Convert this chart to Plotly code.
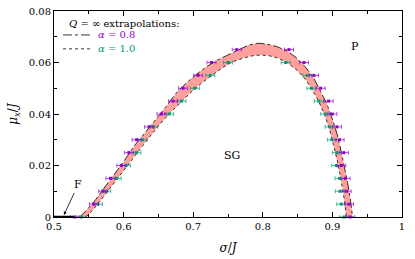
import plotly.graph_objects as go

# ---- data ----
mu_levels_p = [0, 0.005, 0.01, 0.015, 0.02, 0.025, 0.03, 0.035, 0.04, 0.045, 0.05, 0.055, 0.06, 0.065]
sig_p_left = [0.5297, 0.5574, 0.5707, 0.5811, 0.5968, 0.6076, 0.6187, 0.6367, 0.6545, 0.6712, 0.6855, 0.7070, 0.7263, 0.7626]
sig_p_right = [0.9257, 0.9237, 0.9204, 0.9189, 0.9128, 0.9165, 0.9103, 0.9065, 0.8999, 0.8946, 0.8831, 0.8735, 0.8591, 0.8376]

mu_levels_g = [0, 0.005, 0.01, 0.015, 0.02, 0.025, 0.03, 0.035, 0.04, 0.045, 0.05, 0.055, 0.06]
sig_g_left = [0.5392, 0.5631, 0.5750, 0.5900, 0.6033, 0.6184, 0.6273, 0.6425, 0.6654, 0.6832, 0.7023, 0.7245, 0.7501]
sig_g_right = [0.9165, 0.9128, 0.9108, 0.9103, 0.9056, 0.9065, 0.8993, 0.8960, 0.8898, 0.8806, 0.8697, 0.8640, 0.8329]

err_p = [0.0065] * 14
err_g = [0.0065] * 13

# extrapolated boundaries
sig_outer = [0.537, 0.548, 0.560, 0.573, 0.586, 0.600, 0.615, 0.630, 0.645, 0.660, 0.675, 0.690,
             0.705, 0.720, 0.735, 0.750, 0.765, 0.780, 0.793, 0.805, 0.820, 0.835, 0.850, 0.862,
             0.873, 0.883, 0.892, 0.900, 0.907, 0.913, 0.918, 0.922, 0.926, 0.929]
mu_outer = [0.0, 0.003, 0.0068, 0.0115, 0.0163, 0.0215, 0.0275, 0.0325, 0.0372, 0.0425, 0.048, 0.052,
            0.0555, 0.0585, 0.061, 0.063, 0.065, 0.0668, 0.0675, 0.0672, 0.0662, 0.0645, 0.0615, 0.058,
            0.054, 0.049, 0.044, 0.038, 0.032, 0.025, 0.019, 0.013, 0.0065, 0.0]

sig_inner = [0.546, 0.556, 0.568, 0.580, 0.593, 0.607, 0.622, 0.637, 0.652, 0.667, 0.682, 0.697,
             0.712, 0.727, 0.742, 0.757, 0.772, 0.785, 0.796, 0.808, 0.822, 0.836, 0.850, 0.862,
             0.872, 0.881, 0.889, 0.896, 0.902, 0.907, 0.911, 0.915, 0.918, 0.920]
mu_inner = [0.0, 0.0028, 0.0068, 0.011, 0.0155, 0.0205, 0.026, 0.031, 0.036, 0.0405, 0.0445, 0.0485,
            0.052, 0.055, 0.058, 0.0603, 0.0617, 0.0626, 0.0629, 0.0627, 0.0617, 0.0598, 0.0568, 0.0532,
            0.049, 0.0445, 0.0395, 0.034, 0.028, 0.022, 0.0165, 0.011, 0.0055, 0.0]

ferro_sig = [0.5, 0.528]
ferro_mu = [0.0, 0.0]

x_ticks = [0.5, 0.6, 0.7, 0.8, 0.9, 1.0]
x_ticklabels = ["0.5", "0.6", "0.7", "0.8", "0.9", "1"]
y_ticks = [0, 0.02, 0.04, 0.06, 0.08]
y_ticklabels = ["0", "0.02", "0.04", "0.06", "0.08"]

PURPLE = "#9400d3"
GREEN = "#009e73"
FILL = "#ffa09c"
FONT = "DejaVu Serif"

fig = go.Figure()

# band
fig.add_trace(go.Scatter(
    x=sig_outer + sig_inner[::-1], y=mu_outer + mu_inner[::-1],
    fill="toself", fillcolor=FILL, line=dict(width=0), mode="lines",
    hoverinfo="skip", showlegend=False))
fig.add_trace(go.Scatter(x=sig_outer, y=mu_outer, mode="lines",
                         line=dict(color="black", width=0.8, dash="dashdot"), showlegend=False))
fig.add_trace(go.Scatter(x=sig_inner, y=mu_inner, mode="lines",
                         line=dict(color="black", width=0.8, dash="dot"), showlegend=False))

def pts(xs, ys, err, color):
    fig.add_trace(go.Scatter(
        x=xs, y=ys, mode="markers",
        marker=dict(color=color, size=3, symbol="square"),
        error_x=dict(type="data", array=err, color=color, thickness=0.7, width=2),
        cliponaxis=False, showlegend=False))

pts(sig_g_left, mu_levels_g, err_g, GREEN)
pts(sig_g_right, mu_levels_g, err_g, GREEN)
pts(sig_p_left, mu_levels_p, err_p, PURPLE)
pts(sig_p_right, mu_levels_p, err_p, PURPLE)

fig.add_trace(go.Scatter(x=ferro_sig, y=ferro_mu, mode="lines",
                         line=dict(color="black", width=2.5), cliponaxis=False, showlegend=False))

annotations = [
    dict(x=0.5143, y=0.0008, xref="x", yref="y", text="F", showarrow=True,
         ax=14, ay=-30, arrowhead=2, arrowsize=0.8, arrowwidth=0.8, arrowcolor="black",
         font=dict(family=FONT, size=11, color="black")),
    dict(x=0.7554, y=0.024, xref="x", yref="y", text="SG", showarrow=False,
         font=dict(family=FONT, size=11, color="black")),
    dict(x=0.933, y=0.0661, xref="x", yref="y", text="P", showarrow=False,
         font=dict(family=FONT, size=11, color="black")),
    dict(x=0.518, y=0.0753, xref="x", yref="y", text="<i>Q</i> = ∞ extrapolations:", showarrow=False,
         xanchor="left", font=dict(family=FONT, size=10, color="black")),
    dict(x=0.5605, y=0.0707, xref="x", yref="y", text="<i>α</i> = 0.8", showarrow=False,
         xanchor="left", font=dict(family=FONT, size=10, color=PURPLE)),
    dict(x=0.5605, y=0.0653, xref="x", yref="y", text="<i>α</i> = 1.0", showarrow=False,
         xanchor="left", font=dict(family=FONT, size=10, color=GREEN)),
]

shapes = [
    dict(type="line", xref="x", yref="y", x0=0.513, x1=0.556, y0=0.0707, y1=0.0707,
         line=dict(color="black", width=0.8, dash="dashdot")),
    dict(type="line", xref="x", yref="y", x0=0.513, x1=0.556, y0=0.0653, y1=0.0653,
         line=dict(color="black", width=0.8, dash="dot")),
]

fig.update_layout(
    width=415, height=259,
    margin=dict(l=54, r=12.5, t=11, b=42),
    paper_bgcolor="white", plot_bgcolor="white",
    font=dict(family=FONT, size=10, color="black"),
    annotations=annotations, shapes=shapes, showlegend=False,
)
fig.update_xaxes(
    range=[0.5, 1.0], tickvals=x_ticks, ticktext=x_ticklabels, automargin=False,
    showgrid=False, zeroline=False, showline=True, linecolor="black", linewidth=1,
    mirror="allticks", ticks="inside", ticklen=5, tickcolor="black",
    minor=dict(ticks="inside", ticklen=3, dtick=0.05, tickcolor="black", showgrid=False),
    title=dict(text="<i>σ</i>/<i>J</i>", font=dict(family=FONT, size=12), standoff=12),
    tickfont=dict(family=FONT, size=10),
)
fig.update_yaxes(
    range=[0, 0.08], tickvals=y_ticks, ticktext=y_ticklabels, automargin=False,
    showgrid=False, zeroline=False, showline=True, linecolor="black", linewidth=1,
    mirror="allticks", ticks="inside", ticklen=5, tickcolor="black",
    minor=dict(ticks="inside", ticklen=3, dtick=0.01, tickcolor="black", showgrid=False),
    title=dict(text="<i>μ<sub>x</sub></i>/<i>J</i>", font=dict(family=FONT, size=12), standoff=8),
    tickfont=dict(family=FONT, size=10),
)

fig.write_html("out.html", config={"displayModeBar": False},
               post_script="document.body.style.margin='0px';")
